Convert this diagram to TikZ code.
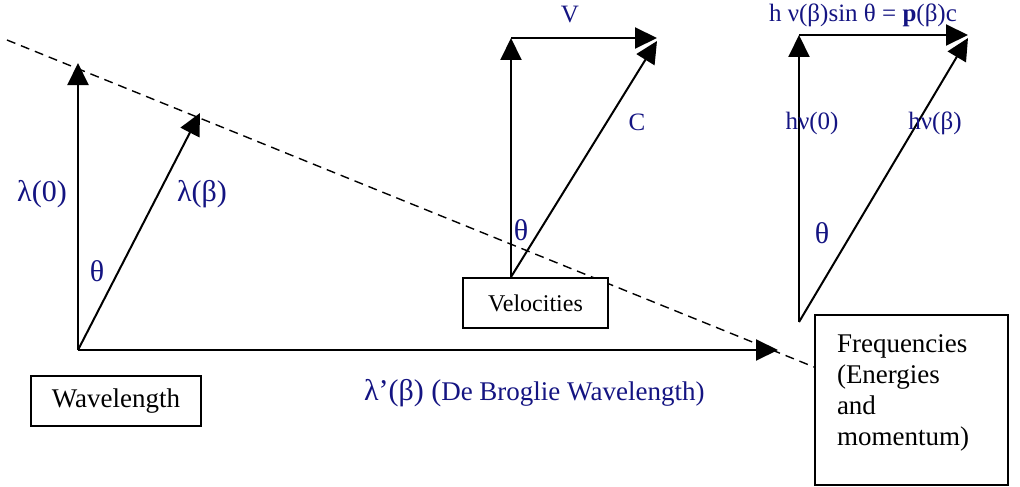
\documentclass[tikz,border=0pt]{standalone}
\usepackage{fontspec}
\setmainfont{Liberation Serif}
\usetikzlibrary{arrows.meta}
\definecolor{ink}{RGB}{20,20,130}

\newcommand{\szL}{\fontsize{30}{36}\selectfont}
\newcommand{\szM}{\fontsize{25}{30}\selectfont}
\newcommand{\szB}{\fontsize{27}{31}\selectfont}

\begin{document}
\begin{tikzpicture}[x=1pt,y=-1pt,line width=2pt,
    vec/.style={-{Triangle[length=22pt,width=21pt]}},
    guide/.style={line width=1.4pt,dash pattern=on 9pt off 6pt},
    lbl/.style={text=ink,inner sep=0pt},
    box/.style={draw,fill=white,inner sep=0pt,font=\szB}]
  \useasboundingbox (0,0) rectangle (1020,487);

  % wavelength triangle
  \coordinate (o1) at (78,350);
  \coordinate (l0) at (78,63);
  \coordinate (lb) at (200,113);
  \coordinate (lp) at (778,350);
  \draw[vec] (o1) -- (l0);
  \draw[vec] (o1) -- (lb);
  \draw[vec] (o1) -- (lp);

  % velocity and frequency triangles
  \foreach \n/\ox/\oy/\ty/\rx in {v/511/277/38/657, f/799/322/35/968} {
    \coordinate (\n o) at (\ox,\oy);
    \coordinate (\n t) at (\ox,\ty);
    \coordinate (\n r) at (\rx,\ty);
    \draw[vec] (\n o) -- (\n t);
    \draw[vec] (\n t) -- (\n r);
    \draw[vec] (\n o) -- ([yshift=-3pt]\n r);
  }

  \coordinate (d0) at (7,40);
  \coordinate (d1) at (814,367);
  \draw[guide] (d0) -- (d1);   % the slanted dashed line

  \node[box,minimum width=170pt,minimum height=50pt] (wave) at (116,401) {Wavelength};
  \node[box,minimum width=145pt,minimum height=50pt,font=\fontsize{24}{29}\selectfont] (velo) at (535.5,303) {Velocities};
  \node[box,minimum width=193pt,minimum height=170pt] (freq) at (911.5,400) {};
  \node[anchor=north west,align=left,inner sep=0pt,font=\szB] (freqtxt)
    at ([xshift=22pt,yshift=-20pt]freq.north west) {Frequencies\\(Energies\\and\\momentum)};

  \node[lbl,font=\szL] (lam0) at (42,194) {λ(0)};
  \node[lbl,font=\szL] (lamb) at (202,194) {λ(β)};
  \node[lbl,font=\szL] (th1) at (97,271) {θ};
  \node[lbl,font=\szL,anchor=base west] (lamp) at (363,400) {λ’(β) ({\szB De Broglie Wavelength)}};

  \node[lbl,font=\szM] (vel) at (570,15) {V};
  \node[lbl,font=\szM] (cee) at (637,122) {C};
  \node[lbl,font=\szL] (th2) at (521,230) {θ};

  \node[lbl,font=\szM] (pc) at (863,15) {h ν(β)sin θ = \textbf{p}(β)c};
  \node[lbl,font=\szM] (hn0) at (812,123) {hν(0)};
  \node[lbl,font=\szM] (hnb) at (935,123) {hν(β)};
  \node[lbl,font=\szL] (th3) at (822,233) {θ};
\end{tikzpicture}
\end{document}
